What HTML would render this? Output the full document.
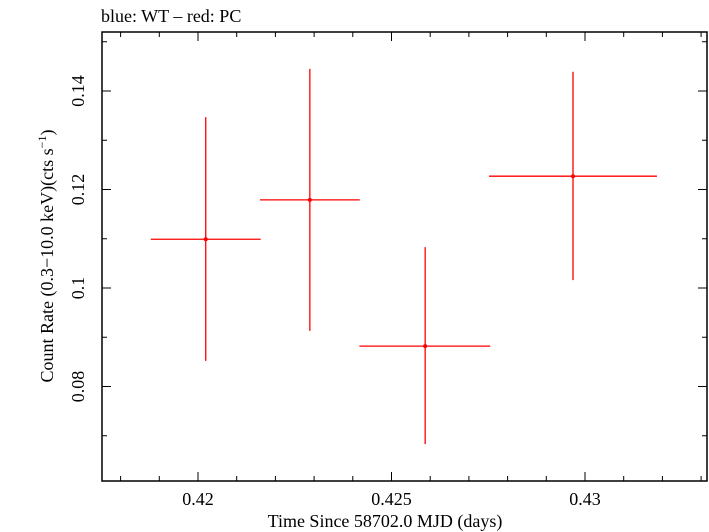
<!DOCTYPE html>
<html><head><meta charset="utf-8"><style>
body{margin:0;background:#fff;}
svg{display:block;font-family:"Liberation Serif",serif;}
</style></head><body>
<svg id="chart" width="709" height="532">
<text x="101" y="22" font-size="18">blue: WT – red: PC</text>
<rect x="102" y="32" width="605" height="449" fill="none" stroke="#000" stroke-width="1.5"/>
<g id="axes"></g>
<g id="marks"></g>
<text x="385" y="527" font-size="18" text-anchor="middle">Time Since 58702.0 MJD (days)</text>
<text transform="translate(53,256) rotate(-90)" font-size="18" text-anchor="middle">Count Rate (0.3−10.0 keV)(cts s<tspan dy="-7" font-size="12">−1</tspan><tspan dy="7">)</tspan></text>
</svg>
<script>
const times=[0.4202,0.42289,0.42587,0.42969];
const timeErrLo=[0.00142,0.00129,0.00170,0.00217];
const timeErrHi=[0.00142,0.00129,0.00168,0.00217];
const rates=[0.1099,0.1179,0.0882,0.1227];
const rateErrHi=[0.0248,0.0266,0.0201,0.0212];
const rateErrLo=[0.0247,0.0266,0.0199,0.0211];
const xTicks=[0.42,0.425,0.43];
const xTickLabels=["0.42","0.425","0.43"];
const yTicks=[0.08,0.1,0.12,0.14];
const yTickLabels=["0.08","0.1","0.12","0.14"];
const L=102,R=707,T=32,B=481;
function xs(v){return 198+(v-0.42)*38700;}
function ys(v){return 288-(v-0.1)*4925;}
const NS="http://www.w3.org/2000/svg";
const ax=document.getElementById('axes'),mk=document.getElementById('marks');
function line(p,x1,y1,x2,y2,c,w,name){const l=document.createElementNS(NS,'line');l.setAttribute('x1',x1);l.setAttribute('y1',y1);l.setAttribute('x2',x2);l.setAttribute('y2',y2);l.setAttribute('stroke',c);l.setAttribute('stroke-width',w);


p.appendChild(l);return l;}
for(let i=0;i<=16;i++){const v=0.417+i*0.001;const x=xs(v);if(x<L||x>R)continue;const major=Math.abs((v*1000)%5)<1e-6||Math.abs((v*1000)%5-5)<1e-6;const len=major?9:5;
line(ax,x,B,x,B-len,'#000',1,'x-tick');line(ax,x,T,x,T+len,'#000',1,'x-tick-top');}
for(let i=0;i<=10;i++){const v=0.06+i*0.01;const y=ys(v);if(y<T||y>B)continue;const major=i%2==0;const len=major?9:5;
line(ax,L,y,L+len,y,'#000',1,'y-tick');line(ax,R,y,R-len,y,'#000',1,'y-tick-right');}
xTicks.forEach((v,i)=>{const t=document.createElementNS(NS,'text');t.setAttribute('x',xs(v));t.setAttribute('y',505);t.setAttribute('font-size','18');t.setAttribute('text-anchor','middle');t.textContent=xTickLabels[i];


ax.appendChild(t);});
yTicks.forEach((v,i)=>{const t=document.createElementNS(NS,'text');t.setAttribute('transform','translate(84,'+ys(v)+') rotate(-90)');t.setAttribute('font-size','18');t.setAttribute('text-anchor','middle');t.textContent=yTickLabels[i];


ax.appendChild(t);});
times.forEach((t,i)=>{const x=xs(t),y=ys(rates[i]);
line(mk,xs(t-timeErrLo[i]),y,xs(t+timeErrHi[i]),y,'#f00',1.3,'x-error-bar');
line(mk,x,ys(rates[i]+rateErrHi[i]),x,ys(rates[i]-rateErrLo[i]),'#f00',1.3,'y-error-bar');
const c=document.createElementNS(NS,'circle');c.setAttribute('cx',x);c.setAttribute('cy',y);c.setAttribute('r',2);c.setAttribute('fill','#f00');


mk.appendChild(c);});
</script>
</body></html>
